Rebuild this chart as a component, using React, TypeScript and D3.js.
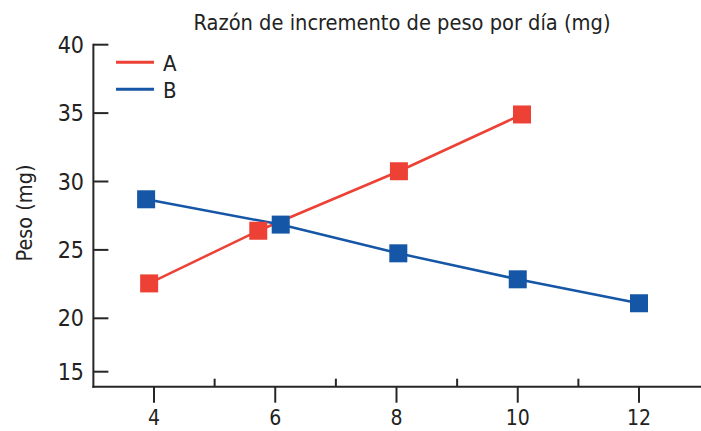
import React from "react";
import * as d3 from "d3";

const W = 701;
const H = 431;

const title = "Razón de incremento de peso por día (mg)";
const yLabel = "Peso (mg)";
const seriesNames = ["A", "B"];
const seriesColors = ["#ED4136", "#1556A7"];

// values
const aX = [3.92, 5.72, 8.04, 10.07];
const aY = [22.55, 26.4, 30.75, 34.9];
const bX = [3.87, 6.09, 8.03, 10.0, 12.0];
const bY = [28.7, 26.85, 24.75, 22.85, 21.1];

const xMajorTicks = [4, 6, 8, 10, 12];
const xMinorTicks = [5, 7, 9, 11];
const yTicks = [15, 20, 25, 30, 35, 40];

const FONT = "'Liberation Sans Narrow', 'DejaVu Sans Condensed', 'Roboto', sans-serif";
const AXIS = "#262626";

export default function App() {
  const x = d3.scaleLinear().domain([4, 12]).range([154, 639]);
  const y = d3.scaleLinear().domain([20, 40]).range([318.3, 44.7]);
  const axisX = x(3);
  const axisY = y(15);
  const brokenOffset = 15; // the "15" tick sits above the baseline in the original

  const yPos = (v: number) => (v === 15 ? y(v) - brokenOffset : y(v));

  const line = d3
    .line<[number, number]>()
    .x((d) => x(d[0]))
    .y((d) => y(d[1]));

  const series = [
    { name: seriesNames[0], color: seriesColors[0], pts: aX.map((v, i) => [v, aY[i]] as [number, number]) },
    { name: seriesNames[1], color: seriesColors[1], pts: bX.map((v, i) => [v, bY[i]] as [number, number]) },
  ];

  const sq = 18;

  return (
    <svg
      width={W}
      height={H}
      style={{ position: "fixed", left: 0, top: 0, background: "#fff" }}
      fontFamily={FONT}
    >
      <text x={402} y={30} textAnchor="middle" fontSize={21} fill="#222" textLength={417} lengthAdjust="spacingAndGlyphs">
        {title}
      </text>
      <text
        transform={`translate(32,${213}) rotate(-90)`}
        textAnchor="middle"
        fontSize={21}
        fill="#222"
        textLength={97}
        lengthAdjust="spacingAndGlyphs"
      >
        {yLabel}
      </text>

      {/* axes */}
      <line x1={axisX} x2={axisX} y1={y(40) - 1} y2={axisY + 1} stroke={AXIS} strokeWidth={2} />
      <line x1={axisX - 1} x2={W} y1={axisY} y2={axisY} stroke={AXIS} strokeWidth={2} />

      {yTicks.map((t) => (
        <g key={t}>
          <line x1={axisX} x2={axisX + 15} y1={yPos(t)} y2={yPos(t)} stroke={AXIS} strokeWidth={2} />
          <text x={84} y={yPos(t)} textAnchor="end" dominantBaseline="central" fontSize={23} fill="#222">
            {t}
          </text>
        </g>
      ))}

      {xMajorTicks.map((t) => (
        <g key={t}>
          <line x1={x(t)} x2={x(t)} y1={axisY} y2={axisY + 16} stroke={AXIS} strokeWidth={2} />
          <text x={x(t)} y={425} textAnchor="middle" fontSize={21} fill="#222">
            {t}
          </text>
        </g>
      ))}
      {xMinorTicks.map((t) => (
        <line key={t} x1={x(t)} x2={x(t)} y1={axisY} y2={axisY - 8} stroke={AXIS} strokeWidth={2} />
      ))}

      {/* series lines */}
      {series.map((s) => (
        <path key={s.name + "l"} d={line(s.pts) || ""} fill="none" stroke={s.color} strokeWidth={2.5} />
      ))}
      {series.map((s) =>
        s.pts.map((p, i) => (
          <rect
            key={s.name + i}
            x={x(p[0]) - sq / 2}
            y={y(p[1]) - sq / 2}
            width={sq}
            height={sq}
            fill={s.color}
          />
        ))
      )}

      {/* legend */}
      {series.map((s, i) => (
        <g key={s.name + "lg"}>
          <line x1={116} x2={154} y1={62.3 + i * 27} y2={62.3 + i * 27} stroke={s.color} strokeWidth={3} />
          <text x={163} y={63 + i * 27} dominantBaseline="central" fontSize={22} fill="#222">
            {s.name}
          </text>
        </g>
      ))}
    </svg>
  );
}
